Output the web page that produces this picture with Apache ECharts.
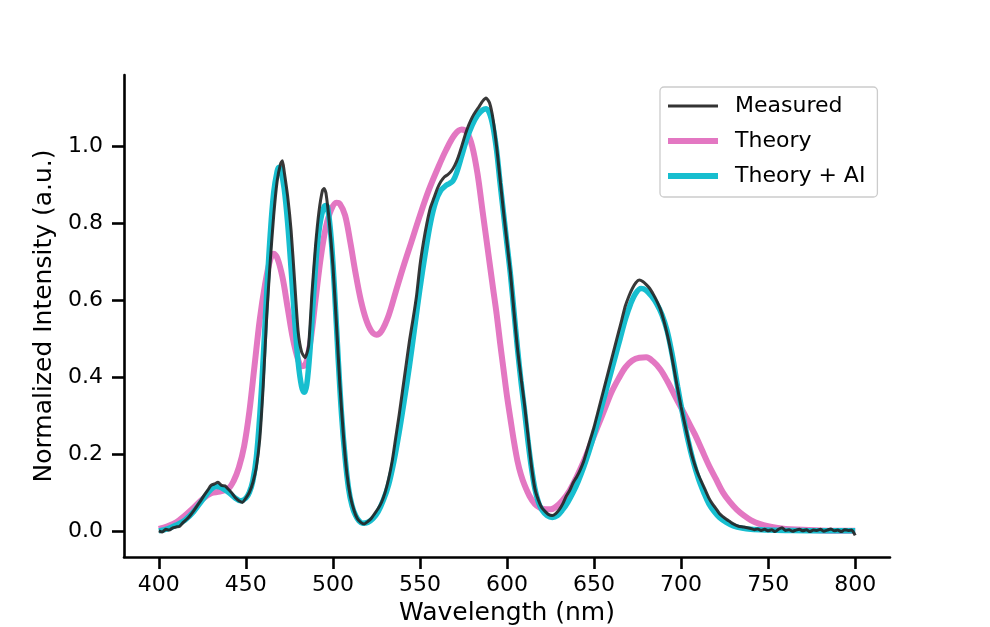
<!DOCTYPE html>
<html>
<head>
<meta charset="utf-8">
<script src="https://cdn.jsdelivr.net/npm/echarts@6/dist/echarts.min.js"></script>
<style>
html,body{margin:0;padding:0;background:#fff;}
#chart{width:990px;height:627px;}
</style>
</head>
<body>
<div id="chart"></div>
<script>
// ---- Data ----
const xTicks = [400, 450, 500, 550, 600, 650, 700, 750, 800];
const yTicks = [0.0, 0.2, 0.4, 0.6, 0.8, 1.0];

const measuredX = [400,402,404,406,408,410,412,414,416,418,420,422,424,426,428,430,432,434,436,438,440,442,444,446,448,450,452,454,456,458,460,462,464,466,468,470,471,472,474,476,478,480,482,484,486,488,490,492,494,495,496,498,500,502,504,506,508,510,512,514,516,518,520,522,524,526,528,530,532,534,536,538,540,542,544,546,548,550,552,554,556,558,560,562,564,566,568,570,572,574,576,578,580,582,584,586,588,590,592,594,596,598,600,602,604,606,608,610,612,614,616,618,620,622,624,626,628,630,632,634,636,638,640,642,644,646,648,650,652,654,656,658,660,662,664,666,668,670,672,674,676,678,680,682,684,686,688,690,692,694,696,698,700,702,704,706,708,710,712,714,716,718,720,722,724,726,728,730,733,736,740,742,744,746,748,750,752,754,756,758,760,762,764,766,768,770,772,774,776,778,780,782,784,786,788,790,792,794,796,798,800];
const measuredY = [0.000,-0.003,0.004,0.002,0.008,0.010,0.012,0.022,0.030,0.040,0.052,0.065,0.078,0.092,0.105,0.118,0.122,0.126,0.118,0.117,0.108,0.098,0.086,0.078,0.074,0.085,0.100,0.125,0.165,0.240,0.380,0.560,0.700,0.820,0.910,0.955,0.962,0.935,0.870,0.780,0.650,0.520,0.465,0.450,0.480,0.620,0.740,0.830,0.885,0.890,0.878,0.800,0.690,0.540,0.380,0.250,0.150,0.090,0.055,0.032,0.022,0.018,0.024,0.032,0.045,0.058,0.075,0.100,0.135,0.180,0.240,0.300,0.365,0.430,0.495,0.550,0.610,0.690,0.750,0.800,0.840,0.865,0.890,0.908,0.920,0.926,0.935,0.950,0.972,1.000,1.030,1.055,1.075,1.090,1.103,1.117,1.125,1.112,1.070,1.000,0.915,0.830,0.750,0.670,0.570,0.475,0.400,0.330,0.250,0.170,0.110,0.080,0.060,0.050,0.042,0.040,0.045,0.055,0.070,0.090,0.105,0.125,0.140,0.158,0.180,0.210,0.240,0.270,0.305,0.340,0.375,0.410,0.445,0.480,0.515,0.550,0.585,0.610,0.630,0.645,0.652,0.648,0.640,0.630,0.615,0.598,0.577,0.548,0.512,0.470,0.420,0.370,0.322,0.280,0.240,0.200,0.170,0.145,0.125,0.105,0.085,0.070,0.058,0.045,0.037,0.030,0.024,0.018,0.012,0.010,0.006,0.003,0.005,0.001,0.004,0.000,0.003,-0.002,0.004,0.008,0.001,0.003,-0.001,0.002,0.004,0.000,0.003,-0.002,0.002,0.001,0.004,-0.001,0.002,0.005,0.000,0.002,-0.002,0.003,0.001,0.002,-0.012];

const theoryX = [400,405,410,415,420,425,430,435,440,443,446,449,452,455,458,461,464,466,468,471,474,477,480,482,484,487,490,493,496,499,502,504,507,510,513,516,519,522,525,528,532,536,540,545,550,555,560,565,570,574,577,580,583,586,589,592,594,596,598,600,602,604,606,608,610,613,616,619,622,625,628,632,636,640,644,648,652,656,660,664,668,672,676,680,684,688,692,696,700,704,708,712,716,720,724,728,732,736,740,745,750,760,770,780,790,800];
const theoryY = [0.005,0.012,0.022,0.040,0.060,0.082,0.098,0.102,0.110,0.130,0.165,0.220,0.310,0.430,0.550,0.640,0.705,0.720,0.710,0.660,0.580,0.500,0.445,0.428,0.430,0.490,0.600,0.710,0.790,0.835,0.853,0.850,0.820,0.750,0.670,0.600,0.550,0.520,0.510,0.520,0.560,0.620,0.680,0.750,0.820,0.885,0.940,0.990,1.030,1.043,1.035,1.000,0.930,0.830,0.730,0.630,0.565,0.490,0.420,0.350,0.290,0.232,0.182,0.146,0.120,0.090,0.070,0.060,0.056,0.056,0.062,0.080,0.105,0.140,0.180,0.225,0.270,0.315,0.360,0.395,0.425,0.443,0.450,0.451,0.440,0.420,0.390,0.355,0.320,0.285,0.250,0.210,0.170,0.135,0.100,0.075,0.055,0.040,0.028,0.018,0.012,0.005,0.003,0.001,0.000,0.000];

const aiX = [400,405,410,415,420,425,430,433,436,440,444,447,450,452,454,456,458,460,462,464,466,468,469,470,472,474,476,478,480,482,483.5,485,487,489,491,493,495,496,497,499,501,503,505,507,509,511,513,515,517,520,523,526,529,532,535,538,541,544,547,550,553,556,559,562,565,567,569,571,574,577,580,583,586,588,590,592,594,596,598,600,602,604,606,608,610,612,614,616,618,620,623,626,629,632,635,638,641,644,647,650,653,656,659,662,665,668,671,674,677,680,683,686,689,692,695,698,701,704,707,710,713,716,719,722,726,730,735,740,750,760,780,800];
const aiY = [0.000,0.005,0.015,0.028,0.050,0.080,0.108,0.115,0.112,0.100,0.085,0.078,0.085,0.100,0.130,0.190,0.300,0.450,0.620,0.770,0.880,0.935,0.945,0.940,0.890,0.800,0.680,0.550,0.440,0.375,0.360,0.380,0.480,0.620,0.740,0.810,0.843,0.846,0.840,0.760,0.620,0.450,0.300,0.190,0.110,0.065,0.040,0.026,0.020,0.022,0.032,0.050,0.080,0.120,0.180,0.255,0.340,0.430,0.530,0.630,0.720,0.800,0.855,0.885,0.898,0.903,0.910,0.930,0.975,1.020,1.055,1.080,1.094,1.097,1.085,1.050,0.990,0.905,0.825,0.745,0.665,0.570,0.475,0.390,0.315,0.235,0.165,0.110,0.075,0.055,0.040,0.035,0.040,0.055,0.075,0.100,0.130,0.165,0.205,0.250,0.300,0.350,0.400,0.450,0.500,0.550,0.590,0.618,0.630,0.625,0.610,0.590,0.562,0.520,0.455,0.375,0.302,0.235,0.180,0.135,0.100,0.070,0.050,0.035,0.022,0.013,0.007,0.004,0.002,0.001,0.000,0.000];

const seriesNames = ['Measured', 'Theory', 'Theory + AI'];
const seriesColors = {'Measured': '#333333', 'Theory': '#e377c2', 'Theory + AI': '#17becf'};

function pairs(xs, ys) { return xs.map((x, i) => [x, ys[i]]); }

const FONT = 'DejaVu Sans';
const chart = echarts.init(document.getElementById('chart'), null, {renderer: 'canvas'});
chart.setOption({
  animation: false,
  backgroundColor: '#ffffff',
  grid: {left: 124, right: 100, top: 75, bottom: 70, containLabel: false, outerBoundsMode: 'none'},
  xAxis: {
    type: 'value', min: 380, max: 820,
    name: 'Wavelength (nm)', nameLocation: 'middle', nameGap: 44,
    nameTextStyle: {fontSize: 25, color: '#000', fontFamily: FONT},
    axisLine: {show: true, onZero: false, lineStyle: {color: '#000', width: 2.6}},
    axisTick: {show: true, length: 12, lineStyle: {color: '#000', width: 2.6}, customValues: xTicks},
    axisLabel: {fontSize: 22, color: '#000', fontFamily: FONT, margin: 17, customValues: xTicks},
    splitLine: {show: false}
  },
  yAxis: {
    type: 'value', min: -0.068, max: 1.185,
    name: 'Normalized Intensity (a.u.)', nameLocation: 'middle', nameGap: 56,
    nameTextStyle: {fontSize: 25, color: '#000', fontFamily: FONT},
    axisLine: {show: true, onZero: false, lineStyle: {color: '#000', width: 2.6}},
    axisTick: {show: true, length: 12, lineStyle: {color: '#000', width: 2.6}, customValues: yTicks},
    axisLabel: {fontSize: 22, color: '#000', fontFamily: FONT, margin: 21, customValues: yTicks,
      formatter: v => v.toFixed(1)},
    splitLine: {show: false}
  },
  legend: {
    data: [
      {name: seriesNames[0], icon: 'path://M0,0 L50,0 L50,3 L0,3 Z', itemStyle: {color: seriesColors[seriesNames[0]]}},
      {name: seriesNames[1], icon: 'path://M0,0 L50,0 L50,6 L0,6 Z', itemStyle: {color: seriesColors[seriesNames[1]]}},
      {name: seriesNames[2], icon: 'path://M0,0 L50,0 L50,6 L0,6 Z', itemStyle: {color: seriesColors[seriesNames[2]]}}
    ],
    orient: 'vertical', left: 660, top: 87,
    backgroundColor: '#fff', borderColor: '#cccccc', borderWidth: 1.3, borderRadius: 4,
    padding: [6, 12, 8, 8],
    itemWidth: 50, itemHeight: 20, itemGap: 9, symbolKeepAspect: true,
    textStyle: {fontSize: 22, color: '#000', fontFamily: FONT, lineHeight: 26, padding: [0, 0, 0, 12]}
  },
  series: [
    {name: 'Theory', type: 'line', data: pairs(theoryX, theoryY), showSymbol: false, symbol: 'none',
      smooth: 0.35, z: 2, lineStyle: {color: '#e377c2', width: 6}, itemStyle: {color: '#e377c2'}},
    {name: 'Theory + AI', type: 'line', data: pairs(aiX, aiY), showSymbol: false, symbol: 'none',
      smooth: 0.35, z: 3, lineStyle: {color: '#17becf', width: 5.5}, itemStyle: {color: '#17becf'}},
    {name: 'Measured', type: 'line', data: pairs(measuredX, measuredY), showSymbol: false, symbol: 'none',
      smooth: 0.2, z: 4, lineStyle: {color: '#222222', width: 3, opacity: 0.9}, itemStyle: {color: '#333333'}}
  ]
});
</script>
</body>
</html>
